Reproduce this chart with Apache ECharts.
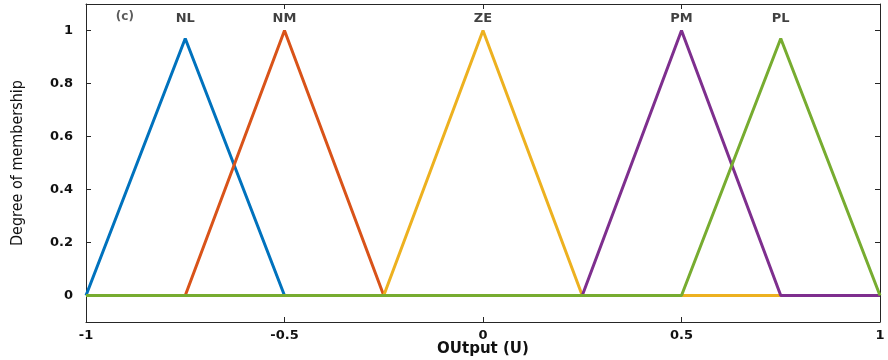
<!DOCTYPE html>
<html>
<head>
<meta charset="utf-8">
<script src="https://cdn.jsdelivr.net/npm/echarts@6/dist/echarts.min.js"></script>
<style>
  html, body { margin: 0; padding: 0; background: #fff; }
  #chart { width: 888px; height: 360px; }
</style>
</head>
<body>
<div id="chart"></div>
<script>
// Triangular membership functions of the output variable U
const setNames = ['NL', 'NM', 'ZE', 'PM', 'PL'];
const nlPoints = [[-1, 0], [-0.75, 0.97], [-0.5, 0], [1, 0]];
const nmPoints = [[-1, 0], [-0.75, 0], [-0.5, 1], [-0.25, 0], [1, 0]];
const zePoints = [[-1, 0], [-0.25, 0], [0, 1], [0.25, 0], [1, 0]];
const pmPoints = [[-1, 0], [0.25, 0], [0.5, 1], [0.75, 0], [1, 0]];
const plPoints = [[-1, 0], [0.5, 0], [0.75, 0.97], [1, 0]];
const peakX = [-0.75, -0.5, 0, 0.5, 0.75];
const labelY = 1.045;
const yTicks = [0, 0.2, 0.4, 0.6, 0.8, 1];

const colors = ['#0072BD', '#D95319', '#EDB120', '#7E2F8E', '#77AC30'];
const seriesPoints = [nlPoints, nmPoints, zePoints, pmPoints, plPoints];

const axisColor = '#262626';
const tickFont = { color: '#111', fontWeight: 'bold', fontSize: 13, fontFamily: 'DejaVu Sans' };

const lineSeries = seriesPoints.map((pts, i) => ({
  name: setNames[i],
  type: 'line',
  data: pts,
  showSymbol: false,
  lineStyle: { color: colors[i], width: 3 },
  z: 2 + i
}));

const nameLabels = {
  type: 'scatter',
  data: peakX.map((x, i) => [x, labelY, setNames[i]]),
  symbolSize: 0,
  silent: true,
  label: {
    show: true,
    position: 'inside',
    formatter: p => p.data[2],
    color: '#111',
    fontWeight: 'bold',
    fontSize: 13,
    fontFamily: 'DejaVu Sans'
  },
  z: 10
};

const panelTag = {
  type: 'scatter',
  data: [[-0.902, 1.05, '(c)']],
  symbolSize: 0,
  silent: true,
  label: {
    show: true,
    position: 'inside',
    formatter: p => p.data[2],
    color: '#333',
    fontWeight: 'bold',
    fontSize: 12,
    fontFamily: 'DejaVu Sans'
  },
  z: 10
};

function frameAxis(extra) {
  return Object.assign({
    type: 'value',
    axisLine: { show: true, onZero: false, lineStyle: { color: axisColor, width: 1 } },
    axisTick: { show: true, inside: true, length: 5, lineStyle: { color: axisColor } },
    splitLine: { show: false }
  }, extra);
}

const chart = echarts.init(document.getElementById('chart'), null, { renderer: 'canvas' });
chart.setOption({
  animation: false,
  backgroundColor: '#fff',
  grid: { left: 86, right: 8, top: 4, bottom: 38, containLabel: false, outerBoundsMode: 'none' },
  xAxis: [
    frameAxis({
      position: 'bottom', min: -1, max: 1, interval: 0.5,
      axisLabel: Object.assign({ margin: 7, formatter: v => String(v) }, tickFont),
      name: 'OUtput (U)', nameLocation: 'middle', nameGap: 20, nameMoveOverlap: false,
      nameTextStyle: { color: '#111', fontWeight: 'bold', fontSize: 15, fontFamily: 'DejaVu Sans' }
    }),
    frameAxis({
      position: 'top', min: -1, max: 1, interval: 0.5,
      axisLabel: { show: false }
    })
  ],
  yAxis: [
    frameAxis({
      position: 'left', min: -0.1, max: 1.1,
      axisTick: { show: true, inside: true, length: 5, customValues: yTicks, lineStyle: { color: axisColor } },
      axisLabel: Object.assign({ margin: 13, customValues: yTicks, formatter: v => String(+v.toFixed(1)) }, tickFont),
      name: 'Degree of membership', nameLocation: 'middle', nameGap: 60, nameMoveOverlap: false,
      nameTextStyle: { color: '#111', fontSize: 16, fontFamily: 'Liberation Sans Narrow, DejaVu Sans Condensed, Liberation Sans' }
    }),
    frameAxis({
      position: 'right', min: -0.1, max: 1.1,
      axisTick: { show: true, inside: true, length: 5, customValues: yTicks, lineStyle: { color: axisColor } },
      axisLabel: { show: false }
    })
  ],
  series: lineSeries.concat([nameLabels, panelTag])
});
</script>
</body>
</html>
